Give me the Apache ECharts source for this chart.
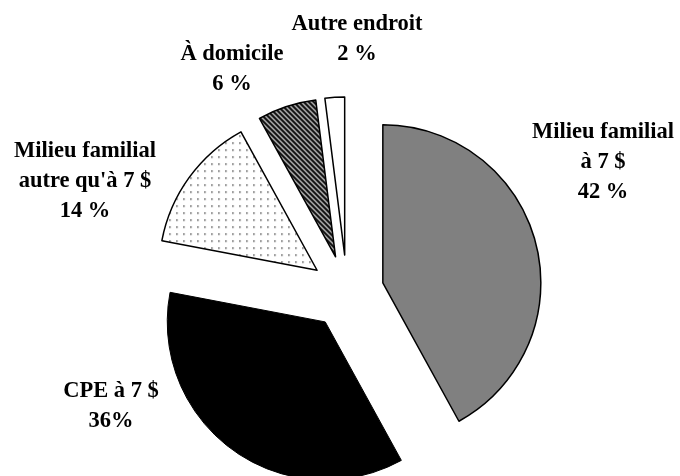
<!DOCTYPE html>
<html>
<head>
<meta charset="utf-8">
<script src="https://cdn.jsdelivr.net/npm/echarts@6/dist/echarts.min.js"></script>
<style>
    html, body { margin: 0; padding: 0; background: #fff; }
    #chart { width: 680px; height: 476px; }
</style>
</head>
<body>
<div id="chart"></div>
<script>
// chart data
const categories = ['Milieu familial\nà 7 $', 'CPE à 7 $', "Milieu familial\nautre qu'à 7 $", 'À domicile', 'Autre endroit']
const shares = [42, 36, 14, 6, 2]
const shareLabels = ['42 %', '36%', '14 %', '6 %', '2 %']

// where each label block sits (center)
const labelSpots = [[603, 162], [111, 406], [85, 181], [232, 69], [357, 39]]

// small tiles for the fill patterns
const makeTile = (w, h, draw) => {
    const c = document.createElement('canvas')
    c.width = w
    c.height = h
    draw(c.getContext('2d'))
    return c
}

const dots = makeTile(7, 7, g => {
    g.fillStyle = '#fff'
    g.fillRect(0, 0, 7, 7)
    g.fillStyle = '#666'
    g.fillRect(3, 3, 1.6, 1.6)
})

const hatch = makeTile(5, 5, g => {
    g.fillStyle = '#111'
    g.fillRect(0, 0, 5, 5)
    g.fillStyle = '#b8b8b8'
    for (let i = 0; i < 5; i++) {
        g.fillRect(i, i, 1, 1)
        g.fillRect((i + 1) % 5, i, 1, 1)
    }
})

const fills = [
    { color: '#808080', borderColor: '#000', borderWidth: 1.5 },
    { color: '#000', borderColor: '#000', borderWidth: 1 },
    { color: { image: dots, repeat: 'repeat' }, borderColor: '#000', borderWidth: 1.5 },
    { color: { image: hatch, repeat: 'repeat' }, borderColor: '#000', borderWidth: 1.5 },
    { color: '#fff', borderColor: '#000', borderWidth: 1.5 }
]

const labelFont = 'bold 22.5px "Liberation Serif"'

const chart = echarts.init(document.getElementById('chart'))
chart.setOption({
    animation: false,
    // labels as free text blocks
    graphic: categories.map((name, i) => ({
        type: 'text',
        x: labelSpots[i][0],
        y: labelSpots[i][1],
        silent: true,
        style: {
            text: name + '\n' + shareLabels[i],
            font: labelFont,
            fill: '#000',
            lineHeight: 30,
            align: 'center',
            verticalAlign: 'middle'
        }
    })),
    series: [{
        type: 'pie',
        center: [347, 292],
        radius: 158,
        startAngle: 90,
        clockwise: true,
        selectedMode: 'multiple',
        selectedOffset: 37,
        emphasis: { disabled: true },
        label: { show: false },
        labelLine: { show: false },
        data: categories.map((name, i) => ({
            name,
            value: shares[i],
            selected: true,
            itemStyle: fills[i],
            select: { itemStyle: fills[i] }
        }))
    }]
})
</script>
</body>
</html>
